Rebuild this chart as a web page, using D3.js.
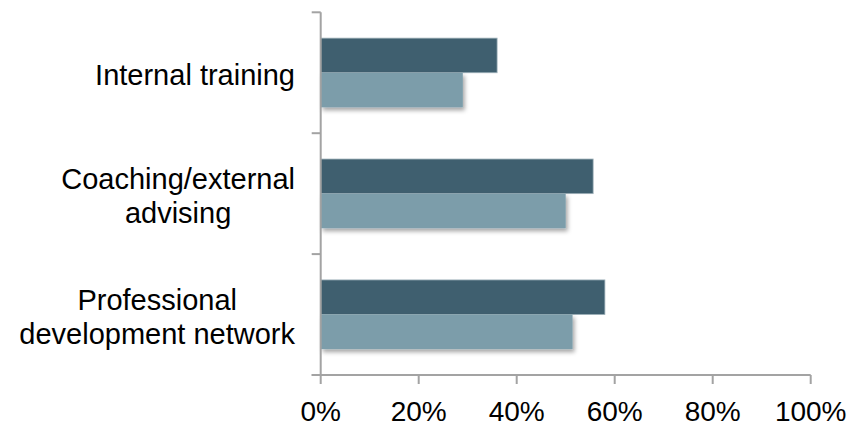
<!DOCTYPE html>
<html>
<head>
<meta charset="utf-8">
<script src="https://cdn.jsdelivr.net/npm/d3@7"></script>
<style>
  html, body { margin: 0; padding: 0; background: #ffffff; }
  svg { display: block; font-family: "Liberation Sans", Arial, Helvetica, sans-serif; }
</style>
</head>
<body>
<svg id="chart" width="858" height="425"></svg>
<script>
// ---- data ----
const categories = ["Internal training", "Coaching/external advising", "Professional development network"];
const categoryLines = [["Internal training"], ["Coaching/external", "advising"], ["Professional", "development network"]];
const seriesNames = ["Series A", "Series B"];
const seriesA = [36, 55.6, 58];
const seriesB = [29, 50, 51.4];
const tickValues = [0, 20, 40, 60, 80, 100];
const tickLabels = ["0%", "20%", "40%", "60%", "80%", "100%"];
const seriesColors = ["#3f5f6f", "#7b9daa"];

const svg = d3.select("#chart");
const axisColor = "#a3a3a3";

const x = d3.scaleLinear().domain([0, 100]).range([320.7, 810.7]);
const y = d3.scaleBand().domain(categories).range([12.3, 375]).padding(0);
const ySub = d3.scaleBand().domain(seriesNames).range([0, y.bandwidth()]).paddingInner(0).paddingOuter(0.746);

// shadow filter
const defs = svg.append("defs");
const f = defs.append("filter").attr("id", "shadow").attr("x", "-10%").attr("y", "-20%").attr("width", "130%").attr("height", "160%");
f.append("feDropShadow").attr("dx", 2).attr("dy", 3).attr("stdDeviation", 2)
  .attr("flood-color", "#000").attr("flood-opacity", 0.35);

const rows = categories.map((c, i) => ({ cat: c, vals: [seriesA[i], seriesB[i]] }));

// bars
const g = svg.append("g");
seriesNames.forEach((s, si) => {
  g.append("g").selectAll("rect").data(rows).join("rect")
    .attr("x", x(0))
    .attr("y", d => y(d.cat) + ySub(s))
    .attr("width", d => x(d.vals[si]) - x(0))
    .attr("height", ySub.bandwidth())
    .attr("fill", seriesColors[si])
    .attr("filter", si === 1 ? "url(#shadow)" : null)
    .attr("stroke", si === 0 ? "#9fb1ba" : "none")
    .attr("stroke-width", si === 0 ? 0.8 : 0);
});

// y axis (category boundaries as ticks)
const yAxis = svg.append("g").attr("transform", `translate(${x(0)},0)`);
yAxis.append("line").attr("x1", 0).attr("x2", 0).attr("y1", y.range()[0]).attr("y2", y.range()[1])
  .attr("stroke", axisColor).attr("stroke-width", 2);
const bounds = categories.map(c => y(c)).concat([y.range()[1]]);
yAxis.selectAll("line.tick").data(bounds).join("line").attr("class", "tick")
  .attr("x1", -9).attr("x2", 0).attr("y1", d => d).attr("y2", d => d)
  .attr("stroke", axisColor).attr("stroke-width", 2);

// category labels
const labelRight = 295;
const lineH = 34;
categories.forEach((c, i) => {
  const lines = categoryLines[i];
  const cy = y(c) + y.bandwidth() / 2;
  const t = svg.append("text")
    .attr("font-size", 29).attr("fill", "#000")
    .attr("text-anchor", "middle");
  const tmp = svg.append("text").attr("font-size", 29);
  let maxW = 0;
  lines.forEach(l => { tmp.text(l); maxW = Math.max(maxW, tmp.node().getComputedTextLength()); });
  tmp.remove();
  const cx = labelRight - maxW / 2;
  lines.forEach((l, li) => {
    t.append("tspan").attr("x", cx)
      .attr("y", cy + 12.5 + (li - (lines.length - 1) / 2) * lineH)
      .text(l);
  });
});

// x axis
const xAxis = svg.append("g").attr("transform", `translate(0,${y.range()[1]})`);
xAxis.append("line").attr("x1", x(0) - 9).attr("x2", x(100)).attr("y1", 0).attr("y2", 0)
  .attr("stroke", axisColor).attr("stroke-width", 2);
xAxis.selectAll("line.tick").data(tickValues).join("line").attr("class", "tick")
  .attr("x1", d => x(d)).attr("x2", d => x(d)).attr("y1", 0).attr("y2", 9)
  .attr("stroke", axisColor).attr("stroke-width", 2);
xAxis.selectAll("text").data(tickValues).join("text")
  .attr("x", d => x(d)).attr("y", 46)
  .attr("text-anchor", "middle").attr("font-size", 28).attr("fill", "#000")
  .text((d, i) => tickLabels[i]);
</script>
</body>
</html>
